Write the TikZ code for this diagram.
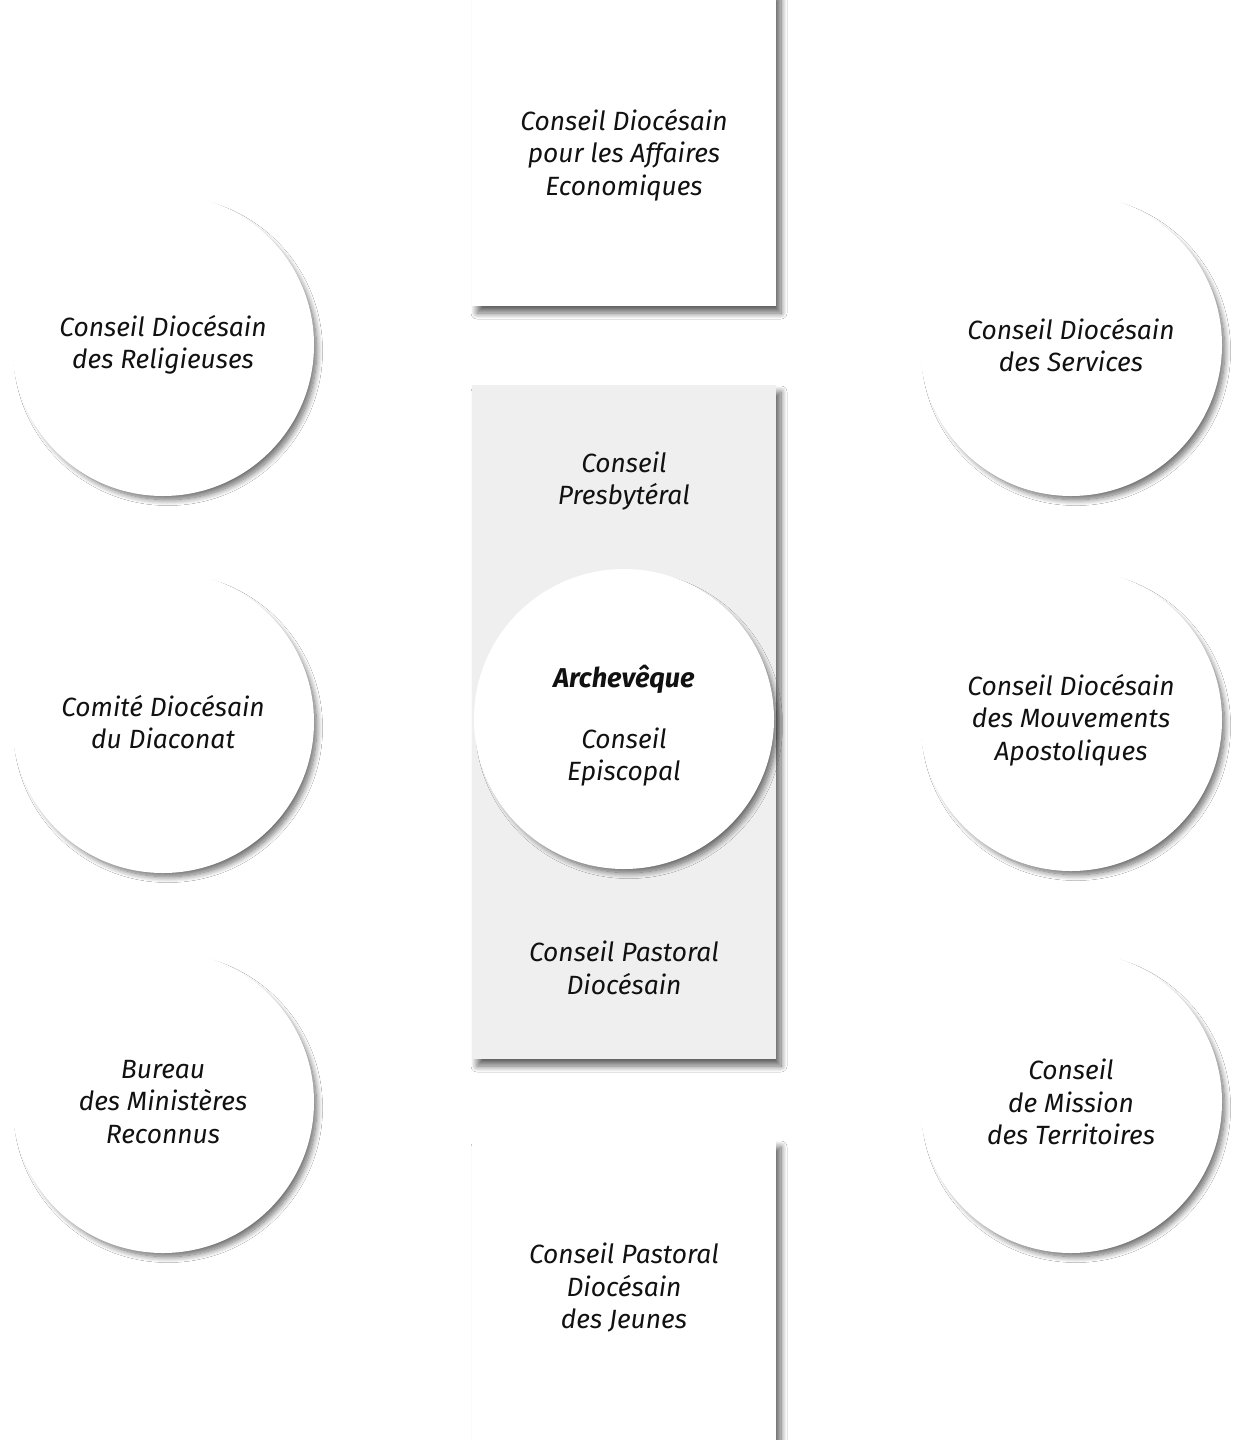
\documentclass[tikz,border=0pt]{standalone}
\usepackage{fontspec}
\setmainfont{Fira Sans}
\usetikzlibrary{shadows.blur}
\definecolor{panelgray}{HTML}{EFEFEF}
\definecolor{inktext}{HTML}{111111}
\begin{document}
\begin{tikzpicture}[x=0.5pt,y=-0.5pt,
  softshadow/.style={blur shadow={shadow xshift=2.5pt, shadow yshift=-3.5pt, shadow blur radius=3pt, shadow blur steps=12, shadow opacity=60}},
  roundshadow/.style={blur shadow={shadow xshift=2.5pt, shadow yshift=-3pt, shadow scale=0.985, shadow blur radius=3pt, shadow blur steps=12, shadow opacity=60}},
  lbl/.style={font=\fontsize{13.2}{16.25}\selectfont\itshape, align=center, text=inktext, inner sep=0pt},
  boxshape/.style={rectangle, fill=white, minimum width=152pt, inner sep=0pt, softshadow},
  bubble/.style={circle, fill=white, minimum size=151pt, inner sep=0pt, roundshadow, lbl}]
\useasboundingbox (0,0) rectangle (1233,1440);
\fill[white] (0,0) rectangle (1233,1440);

% central column
\node[boxshape, minimum height=158pt] (topbox) at (624,148) {};
\node[lbl] (topbox text) at (624,155) {Conseil Diocésain\\pour les Affaires\\Economiques};

\node[boxshape, fill=panelgray, minimum height=337pt] (midbox) at (624,722) {};
\node[lbl] (presb) at (624,481) {Conseil\\Presbytéral};
\node[lbl] (pastoral) at (624,968) {Conseil Pastoral\\Diocésain};

\node[boxshape, minimum height=160pt] (botbox) at (624,1300) {};
\node[lbl] (jeunes) at (624,1288) {Conseil Pastoral\\Diocésain\\des Jeunes};

\node[bubble, minimum size=150pt] (arch) at (624,719) {};
\node[lbl, font=\fontsize{13.6}{16.25}\selectfont\bfseries\itshape] (archname) at (624,679) {Archevêque};
\node[lbl] (episc) at (624,757) {Conseil\\Episcopal};

% left circles
\node[bubble] (relig) at (163,345) {Conseil Diocésain\\des Religieuses};
\node[bubble] (diac) at (163,722) {Comité Diocésain\\du Diaconat};
\node[bubble] (minist) at (163,1102) {Bureau\\des Ministères\\Reconnus};

% right circles
\node[bubble] (serv) at (1071,345) {Conseil Diocésain\\des Services};
\node[bubble] (mouv) at (1071,720) {Conseil Diocésain\\des Mouvements\\Apostoliques};
\node[bubble] (terr) at (1071,1102) {Conseil\\de Mission\\des Territoires};
\end{tikzpicture}
\end{document}
